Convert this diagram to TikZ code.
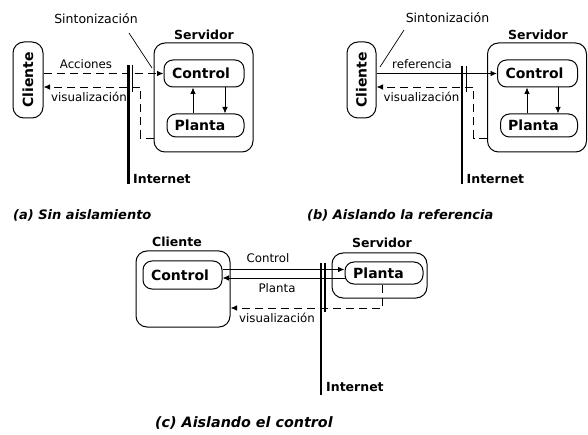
\documentclass[tikz,border=0pt]{standalone}
\usepackage{fontspec}
\setmainfont{DejaVu Sans}
\usetikzlibrary{arrows.meta}

\tikzset{
  blk/.style={draw, line width=1pt, rounded corners=9pt, inner sep=0pt,
              font=\bfseries\fontsize{14}{16}\selectfont},
  srv/.style={draw, line width=1pt, rounded corners=11pt, inner sep=0pt},
  hdr/.style={inner sep=0pt, font=\bfseries\fontsize{12.5}{14}\selectfont},
  lbl/.style={inner sep=0pt, font=\fontsize{11.8}{13}\selectfont},
  capt/.style={inner sep=0pt, anchor=base west,
               font=\bfseries\itshape\fontsize{13}{15}\selectfont},
  net/.style={line width=2.4pt},
  netb/.style={line width=1.3pt},
  link/.style={line width=0.9pt},
  dsh/.style={link, dash pattern=on 8pt off 5pt},
  arr/.style={-{Latex[length=6.5pt,width=5.5pt]}},
}

\begin{document}
\begin{tikzpicture}[x=1pt, y=-1pt]
\useasboundingbox (0,0) rectangle (588,435);

% ---------------- (a) Sin aislamiento ----------------
\node[srv, minimum width=30pt, minimum height=76pt] (cla) at (28,80)
  {\bfseries\fontsize{14}{16}\selectfont\rotatebox{90}{Cliente}};
\node[srv, minimum width=99pt, minimum height=109pt] (srva) at (203.5,97.5) {};
\node[hdr] (srvah) at (204,35) {Servidor};
\node[blk, minimum width=80pt, minimum height=27pt] (ctla) at (204,73.5) {Control\kern6pt};
\node[blk, minimum width=77pt, minimum height=23pt] (pla) at (205.5,125.5) {Planta\kern11pt};

\coordinate (ua) at (193,0);
\coordinate (da) at (225,0);
\draw[link,arr] (pla.north -| ua) -- (ctla.south -| ua);
\draw[link,arr] (ctla.south -| da) -- (pla.north -| da);

\coordinate (neta1) at (128.5,65);
\coordinate (neta2) at (128.5,184);
\coordinate (netc1) at (132.8,65);
\coordinate (netc2) at (132.8,92);
\draw[net] (neta1) -- (neta2);
\draw[netb] (netc1) -- (netc2);
\node[hdr, anchor=west] (neta) at (133,179) {Internet};

\draw[dsh,arr] (cla.east |- ctla.west) -- (ctla.west);
\node[lbl] (acc) at (86,64) {Acciones};

\coordinate (va1) at (140,138);
\coordinate (va2) at (140,87);
\draw[dsh,arr] (srva.west |- va1) -- (va1) -- (va2) -- (cla.east |- va2);
\node[lbl] (visa) at (89,97) {visualización};

\node[lbl, font=\fontsize{12.5}{14}\selectfont] (sina) at (96,19) {Sintonización};
\coordinate (sa1) at (129,33);
\coordinate (sa2) at (152,68);
\draw[line width=0.7pt] (sa1) -- (sa2);

\node[capt] (capa) at (13,220) {(a) Sin aislamiento};

% ---------------- (b) Aislando la referencia ----------------
\node[srv, minimum width=29pt, minimum height=76pt] (clb) at (361.5,80)
  {\bfseries\fontsize{14}{16}\selectfont\rotatebox{90}{Cliente}};
\node[srv, minimum width=99pt, minimum height=109pt] (srvb) at (537,97.5) {};
\node[hdr] (srvbh) at (538,35) {Servidor};
\node[blk, minimum width=80pt, minimum height=27pt] (ctlb) at (537.5,73.5) {Control\kern6pt};
\node[blk, minimum width=77pt, minimum height=23pt] (plb) at (539,125.5) {Planta\kern11pt};

\coordinate (ub) at (527,0);
\coordinate (db) at (558,0);
\draw[link,arr] (plb.north -| ub) -- (ctlb.south -| ub);
\draw[link,arr] (ctlb.south -| db) -- (plb.north -| db);

\coordinate (netb1) at (462,66);
\coordinate (netb2) at (462,184);
\coordinate (netd1) at (466.3,66);
\coordinate (netd2) at (466.3,92);
\draw[net] (netb1) -- (netb2);
\draw[netb] (netd1) -- (netd2);
\node[hdr, anchor=west] (netbl) at (466.5,179) {Internet};

\draw[link,arr] (clb.east |- ctlb.west) -- (ctlb.west);
\node[lbl] (ref) at (422,64) {referencia};

\coordinate (vb1) at (473.5,138);
\coordinate (vb2) at (473.5,87);
\draw[dsh,arr] (srvb.west |- vb1) -- (vb1) -- (vb2) -- (clb.east |- vb2);
\node[lbl] (visb) at (421.5,97) {visualización};

\node[lbl, font=\fontsize{12.5}{14}\selectfont] (sinb) at (447.5,18) {Sintonización};
\coordinate (sb1) at (404,30);
\coordinate (sb2) at (380,67);
\draw[line width=0.7pt] (sb1) -- (sb2);

\node[capt] (capb) at (307,220) {(b) Aislando la referencia};

% ---------------- (c) Aislando el control ----------------
\node[hdr] (clch) at (177,242) {Cliente};
\node[srv, minimum width=94pt, minimum height=76pt] (clc) at (183,289) {};
\node[blk, minimum width=79pt, minimum height=28pt] (ctlc) at (182.5,275) {Control\kern5pt};

\node[hdr] (srvch) at (382,243) {Servidor};
\node[srv, minimum width=95pt, minimum height=45pt] (srvc) at (379.5,275.5) {};
\node[blk, minimum width=78pt, minimum height=22pt] (plc) at (384,273) {Planta\kern11pt};

\coordinate (cu) at (0,269.5);
\coordinate (cl) at (0,278);
\draw[link,arr] (ctlc.east |- cu) -- (plc.west |- cu);
\draw[link,arr] (plc.west |- cl) -- (ctlc.east |- cl);
\node[lbl] (lctl) at (268,258) {Control};
\node[lbl] (lpl) at (277,288) {Planta};

\coordinate (netc3) at (321,263);
\coordinate (netc4) at (321,395);
\coordinate (nete1) at (325,263);
\coordinate (nete2) at (325,312);
\draw[net] (netc3) -- (netc4);
\draw[netb] (nete1) -- (nete2);
\node[hdr, anchor=west] (netcl) at (326,387) {Internet};

\coordinate (vc1) at (382,308);
\draw[dsh,arr] (plc.south -| vc1) -- (vc1) -- (clc.east |- vc1);
\node[lbl] (visc) at (277,318) {visualización};

\node[capt, font=\bfseries\itshape\fontsize{14.3}{16}\selectfont] (capc) at (155,427)
  {(c) Aislando el control};
\end{tikzpicture}
\end{document}
